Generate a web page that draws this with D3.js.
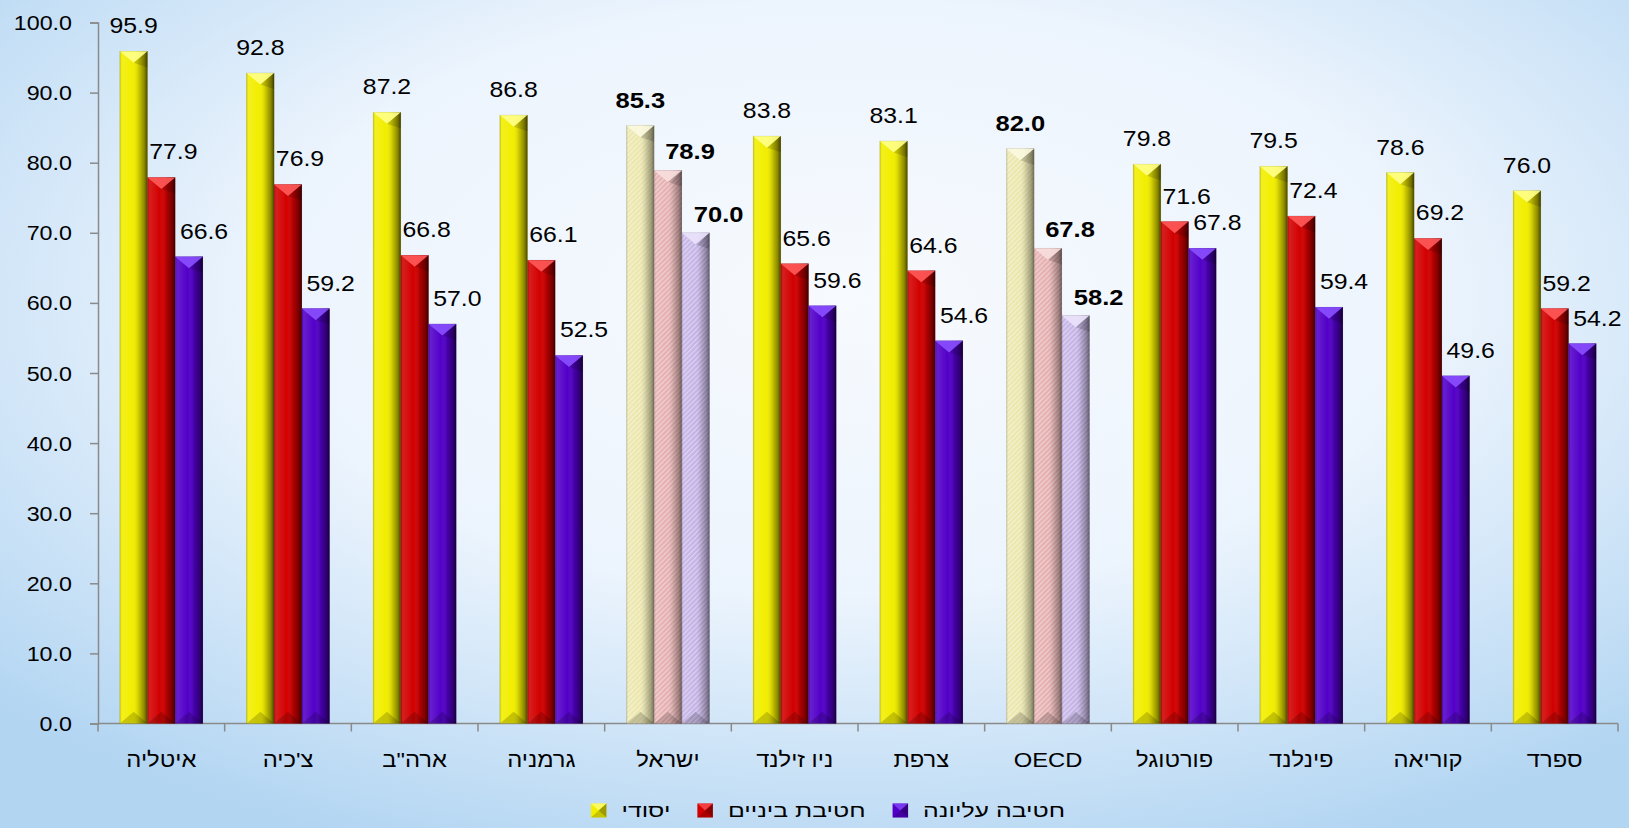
<!DOCTYPE html>
<html>
<head>
<meta charset="utf-8">
<script src="https://cdn.jsdelivr.net/npm/d3@7/dist/d3.min.js"></script>
<style>
  html, body { margin: 0; padding: 0; overflow: hidden; }
  svg { display: block; }
  text { font-family: "Liberation Sans", Arial, sans-serif; fill: #000; }
</style>
</head>
<body>
<svg id="chart" width="1629" height="828"></svg>
<script>
// ---------- DATA ----------
const categories = ["איטליה", "צ'כיה", "ארה\"ב", "גרמניה", "ישראל", "ניו זילנד", "צרפת", "OECD", "פורטוגל", "פינלנד", "קוריאה", "ספרד"];
const seriesNames = ["יסודי", "חטיבת ביניים", "חטיבה עליונה"];
const primary   = [95.9, 92.8, 87.2, 86.8, 85.3, 83.8, 83.1, 82.0, 79.8, 79.5, 78.6, 76.0];
const lowerSec  = [77.9, 76.9, 66.8, 66.1, 78.9, 65.6, 64.6, 67.8, 71.6, 72.4, 69.2, 59.2];
const upperSec  = [66.6, 59.2, 57.0, 52.5, 70.0, 59.6, 54.6, 58.2, 67.8, 59.4, 49.6, 54.2];
const highlighted = ["ישראל", "OECD"];
const yTicks = [0, 10, 20, 30, 40, 50, 60, 70, 80, 90, 100];

// ---------- STYLE ----------
const W = 1629, H = 828;
const plot = { left: 98, right: 1618, top: 22.5, bottom: 723.5 };
const baseColors = ["#f2ee00", "#d20000", "#5200c8"];
const capColors = ["#ffff8a", "#ff5a5a", "#8a50ff"];
const paleColors = ["#ebe6aa", "#e6aeae", "#c4b2e6"];
const paleCaps = ["#fbf9e0", "#f8dede", "#ebe2fb"];
const labelDx = [0, 12, 15];
const labelDxHi = [0, 22, 23];

const svg = d3.select("#chart");
const defs = svg.append("defs");

// horizontal stretch factor so that a sample string reaches a target width
function stretch(sample, size, weight, target) {
  const t = svg.append("text").style("font-size", size + "px").style("font-weight", weight).text(sample);
  const w = t.node().getComputedTextLength();
  t.remove();
  return target / w;
}
const SX_TICK = stretch("100.0", 19.6, "normal", 58.3);
const SX_VAL = stretch("95.9", 21.4, "normal", 48.3);
const SX_BOLD = stretch("85.3", 22, "bold", 49.7);
const SX_CAT = stretch("ישראל", 21, "normal", 63.3);
const SX_LEG = stretch("חטיבה עליונה", 19, "normal", 142);

// background
const bg = defs.append("radialGradient").attr("id", "bg")
  .attr("cx", "52%").attr("cy", "36%").attr("r", "72%");
bg.append("stop").attr("offset", "0").attr("stop-color", "#f7fafe");
bg.append("stop").attr("offset", "0.5").attr("stop-color", "#ecf4fd");
bg.append("stop").attr("offset", "1").attr("stop-color", "#b2d5f2");
svg.insert("rect", ":first-child").attr("width", W).attr("height", H).attr("fill", "url(#bg)");

// cylinder shading
const sh = defs.append("linearGradient").attr("id", "shade").attr("x1", "0").attr("x2", "1").attr("y1", "0").attr("y2", "0");
[[0, "#000", 0.18], [0.07, "#fff", 0.12], [0.45, "#fff", 0], [0.68, "#000", 0.15], [0.88, "#000", 0.42], [1, "#000", 0.7]]
  .forEach(([o, c, a]) => sh.append("stop").attr("offset", o).attr("stop-color", c).attr("stop-opacity", a));

// hatch pattern
const pat = defs.append("pattern").attr("id", "hatch").attr("patternUnits", "userSpaceOnUse")
  .attr("width", 3.5).attr("height", 3.5).attr("patternTransform", "rotate(45)");
pat.append("rect").attr("width", 1.3).attr("height", 3.5).attr("fill", "#fff").attr("fill-opacity", 0.4);

// ---------- SCALES ----------
const y = d3.scaleLinear().domain([0, 100]).range([plot.bottom, plot.top]);
const x = d3.scaleBand().domain(categories).range([plot.left, plot.right]).padding(0);
const x1 = d3.scaleBand().domain(seriesNames).range([21.8, x.bandwidth() - 21.8]).padding(0);
const seriesValues = [primary, lowerSec, upperSec];
const fmt = d3.format(".1f");

// ---------- AXES ----------
const axisColor = "#8a8a8a";
const yAxis = svg.append("g").attr("transform", `translate(${plot.left},0)`)
  .call(d3.axisLeft(y).tickValues(yTicks).tickFormat(fmt).tickSize(8));
yAxis.select(".domain").attr("stroke", axisColor).attr("stroke-width", 1.5);
yAxis.selectAll(".tick line").attr("stroke", axisColor).attr("stroke-width", 1.5);
yAxis.selectAll(".tick text")
  .attr("x", 0).attr("dy", "0.36em")
  .attr("transform", `translate(-26,0) scale(${SX_TICK},1)`)
  .attr("text-anchor", "end")
  .style("font-size", "19.6px").style("font-family", "'Liberation Sans', Arial, sans-serif").attr("fill", "#000");

const xAxis = svg.append("g");
xAxis.append("line").attr("x1", plot.left).attr("x2", plot.right)
  .attr("y1", y(0)).attr("y2", y(0)).attr("stroke", axisColor).attr("stroke-width", 1.5);
const bounds = categories.map(c => x(c)).concat([x(categories[categories.length - 1]) + x.bandwidth()]);
xAxis.selectAll("line.bt").data(bounds).join("line").attr("class", "bt")
  .attr("x1", d => d).attr("x2", d => d)
  .attr("y1", y(0)).attr("y2", y(0) + 8).attr("stroke", axisColor).attr("stroke-width", 1.5);
xAxis.selectAll("text").data(categories).join("text")
  .attr("transform", d => `translate(${x(d) + x.bandwidth() / 2},${y(0) + 43}) scale(${SX_CAT},1)`)
  .attr("text-anchor", "middle").style("font-size", "21px").text(d => d);

// ---------- BARS ----------
const barsG = svg.append("g");
const labelsG = svg.append("g");
categories.forEach((cat, ci) => {
  const hi = highlighted.includes(cat);
  seriesNames.forEach((s, si) => {
    const v = seriesValues[si][ci];
    const bx = x(cat) + x1(s), bw = x1.bandwidth();
    const top = y(v), bot = y(0);
    const g = barsG.append("g");
    g.append("rect").attr("x", bx).attr("y", top).attr("width", bw).attr("height", bot - top)
      .attr("fill", hi ? paleColors[si] : baseColors[si]);
    if (hi) g.append("rect").attr("x", bx).attr("y", top).attr("width", bw).attr("height", bot - top)
      .attr("fill", "url(#hatch)");
    g.append("rect").attr("x", bx).attr("y", top).attr("width", bw).attr("height", bot - top)
      .attr("fill", "url(#shade)").attr("fill-opacity", hi ? 0.75 : 1);
    // top bevel
    const d = bw * 0.42;
    g.append("path")
      .attr("d", `M${bx},${top}L${bx + bw},${top}L${bx + bw / 2},${top + d}Z`)
      .attr("fill", hi ? paleCaps[si] : capColors[si]).attr("fill-opacity", 0.9);
    g.append("path")
      .attr("d", `M${bx + bw},${top}L${bx + bw / 2},${top + d}L${bx + bw},${top + d * 1.4}Z`)
      .attr("fill", "#000").attr("fill-opacity", 0.15);
    // bottom bevel
    g.append("path")
      .attr("d", `M${bx},${bot}L${bx + bw},${bot}L${bx + bw / 2},${bot - d}Z`)
      .attr("fill", "#000").attr("fill-opacity", 0.18);
    g.append("rect").attr("x", bx).attr("y", top).attr("width", bw).attr("height", bot - top)
      .attr("fill", "none").attr("stroke", "#000").attr("stroke-opacity", 0.12).attr("stroke-width", 0.6);

    // value label
    const dx = hi ? labelDxHi[si] : labelDx[si];
    const gap = hi && si > 0 ? 11 : 18;
    labelsG.append("text")
      .attr("transform", `translate(${bx + bw / 2 + dx},${top - gap}) scale(${hi ? SX_BOLD : SX_VAL},1)`)
      .attr("text-anchor", "middle")
      .style("font-size", hi ? "22px" : "21.4px")
      .style("font-weight", hi ? "bold" : "normal")
      .text(fmt(v));
  });
});

// ---------- LEGEND ----------
const leg = svg.append("g");
const legendCenter = 828, mW = 15.5, mH = 14, gapMT = 15, gapItem = 27, legY = 803.5;
// order left to right: yellow, red, purple
const tmp = seriesNames.map((s, i) => {
  const t = leg.append("text").style("font-size", "19px").attr("text-anchor", "middle").text(s);
  const w = t.node().getComputedTextLength() * SX_LEG;
  return { s, i, t, w };
});
let total = tmp.reduce((a, it) => a + mW + gapMT + it.w, 0) + gapItem * (tmp.length - 1);
let cx = legendCenter - total / 2;
tmp.forEach(it => {
  const mg = leg.append("g");
  mg.append("rect").attr("x", cx).attr("y", legY).attr("width", mW).attr("height", mH).attr("fill", baseColors[it.i]);
  mg.append("path").attr("d", `M${cx},${legY}L${cx + mW},${legY}L${cx + mW / 2},${legY + mH / 2}Z`).attr("fill", capColors[it.i]).attr("fill-opacity", 0.7);
  mg.append("path").attr("d", `M${cx + mW},${legY}L${cx + mW},${legY + mH}L${cx + mW / 2},${legY + mH / 2}Z`).attr("fill", "#000").attr("fill-opacity", 0.35);
  mg.append("path").attr("d", `M${cx},${legY + mH}L${cx + mW},${legY + mH}L${cx + mW / 2},${legY + mH / 2}Z`).attr("fill", "#000").attr("fill-opacity", 0.18);
  cx += mW + gapMT;
  it.t.attr("transform", `translate(${cx + it.w / 2},${legY + 13.5}) scale(${SX_LEG},1)`);
  cx += it.w + gapItem;
});
</script>
</body>
</html>
